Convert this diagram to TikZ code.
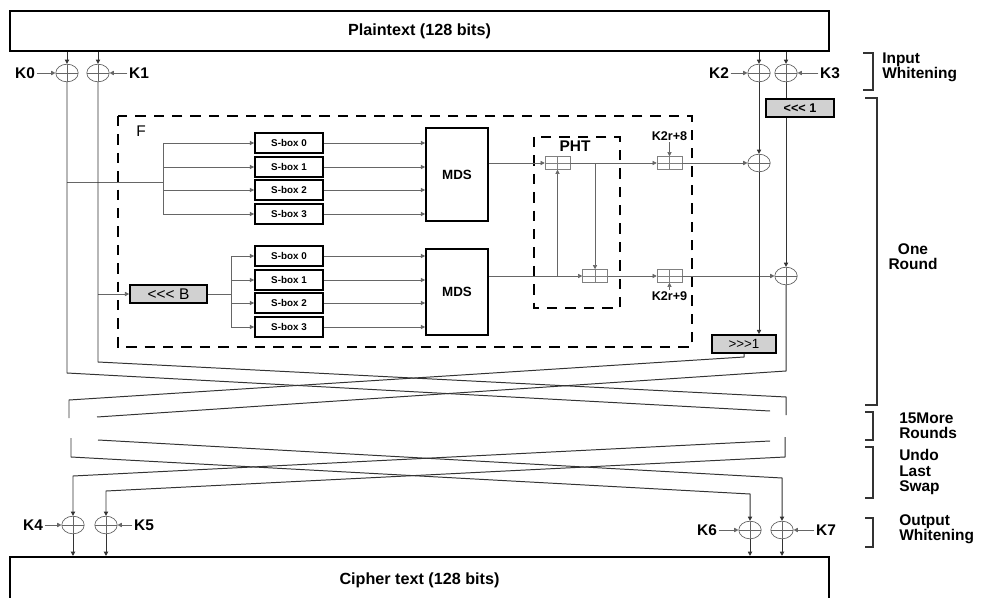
\documentclass[tikz,border=0pt]{standalone}
\usepackage{fontspec}
\setmainfont{Liberation Sans}[Ligatures=TeXOff]
\usetikzlibrary{shapes.geometric,arrows.meta}

\tikzset{
  lane/.style={draw=black!80, line width=0.7pt},
  wire/.style={draw=black!60, line width=0.5pt},
  xorc/.style={ellipse, draw=black!60, line width=0.5pt, minimum width=5.6mm,
    minimum height=4.4mm, inner sep=0pt,
    path picture={\draw[black!60] (path picture bounding box.north) -- (path picture bounding box.south)
      (path picture bounding box.west) -- (path picture bounding box.east);}},
  addr/.style={rectangle, draw=black!50, line width=0.5pt, minimum width=6.2mm,
    minimum height=3.2mm, inner sep=0pt,
    path picture={\draw[black!50] (path picture bounding box.north) -- (path picture bounding box.south)
      (path picture bounding box.west) -- (path picture bounding box.east);}},
  sbox/.style={rectangle, draw, line width=1.3pt, minimum width=17mm, minimum height=5.1mm,
    inner sep=0pt, font=\fontsize{7}{8}\selectfont\bfseries},
  mds/.style={rectangle, draw, line width=1.3pt, minimum width=15.5mm, inner sep=0pt,
    font=\fontsize{9.5}{10}\selectfont\bfseries},
  rot/.style={rectangle, draw, line width=1.2pt, fill=black!18, inner sep=0pt, minimum height=4.5mm},
  keylbl/.style={font=\fontsize{11}{12}\selectfont\bfseries, inner sep=1pt},
  sidelbl/.style={font=\fontsize{11}{10.8}\selectfont\bfseries, align=left, anchor=west, inner sep=0pt},
  brk/.style={draw=black!80, line width=0.8pt},
  fbox/.style={draw, line width=1.5pt, dash pattern=on 2.6mm off 2mm},
  iobox/.style={rectangle, draw, line width=1.5pt, minimum width=204.75mm, inner sep=0pt,
    font=\fontsize{11.5}{12}\selectfont\bfseries},
}

\begin{document}
\begin{tikzpicture}[x=0.25mm, y=-0.25mm, >={Triangle[length=3pt,width=3pt]}]
    \useasboundingbox (0,0) rectangle (987,597);
    \clip (0,0) rectangle (987,597);

    % Plaintext and cipher text
    \node[iobox, minimum height=10mm] (plain) at (419.5,31) {Plaintext (128 bits)};
    \node[iobox, minimum height=11.5mm] (cipher) at (419.5,580) {Cipher text (128 bits)};

    % Input whitening
    \node[xorc] (x0) at (67,73) {};
    \node[xorc] (x1) at (98,73) {};
    \node[xorc] (x2) at (759,73) {};
    \node[xorc] (x3) at (786,73) {};
    \node[keylbl] (k0) at (25,73) {K0};
    \node[keylbl] (k1) at (139,73) {K1};
    \node[keylbl] (k2) at (719,73) {K2};
    \node[keylbl] (k3) at (830,73) {K3};
    \foreach \i in {0,...,3} {
        \draw[lane,->] (plain.south -| x\i) -- (x\i);
        \draw[wire,->] (k\i) -- (x\i);
    }

    % F function
    \draw[fbox] (118,116) rectangle (692,347);
    \node[font=\fontsize{11}{12}\selectfont] (flbl) at (141,131) {F};

    \foreach \i/\y in {0/143,1/167,2/190,3/214}
        \node[sbox] (sa\i) at (289,\y) {S-box \i};
    \foreach \i/\y in {0/256,1/280,2/303,3/327}
        \node[sbox] (sb\i) at (289,\y) {S-box \i};
    \node[mds, minimum height=23.25mm] (mda) at (457,174.5) {MDS};
    \node[mds, minimum height=21.5mm] (mdb) at (457,292) {MDS};
    \node[rot, minimum width=19.25mm, font=\fontsize{11}{12}\selectfont] (rotb) at (168.5,294) {<<< B};

    % upper input bus
    \coordinate (fin) at (163,182);
    \draw[wire] (fin -| x0) -- (fin);
    \draw[wire] (sa0.west -| fin) -- (sa3.west -| fin);
    % lower input bus
    \coordinate (bb) at (231,294);
    \draw[wire,->] (rotb -| x1) -- (rotb);
    \draw[wire] (rotb.east) -- (bb);
    \draw[wire] (sb0.west -| bb) -- (sb3.west -| bb);
    \foreach \i in {0,...,3} {
        \draw[wire,->] (sa\i.west -| fin) -- (sa\i.west);
        \draw[wire,->] (sb\i.west -| bb) -- (sb\i.west);
        \draw[wire,->] (sa\i.east) -- (sa\i.east -| mda.west);
        \draw[wire,->] (sb\i.east) -- (sb\i.east -| mdb.west);
    }

    % PHT
    \draw[fbox] (534,137) rectangle (620,308);
    \node[font=\fontsize{11}{12}\selectfont\bfseries] (phtl) at (575,146) {PHT};
    \node[addr] (pa) at (557.5,163) {};
    \node[addr] (pb) at (595,276) {};
    \draw[wire,->] (mda.east |- pa) -- (pa);
    \draw[wire,->] (mdb.east |- pb) -- (pb);
    \draw[wire,->] (pa |- pb) -- (pa);
    \draw[wire,->] (pb |- pa) -- (pb);

    % round subkeys
    \node[addr] (ka) at (669.5,163) {};
    \node[addr] (kb) at (669.5,276) {};
    \node[font=\fontsize{9}{10}\selectfont\bfseries, inner sep=1pt] (k8) at (669.5,136) {K2r+8};
    \node[font=\fontsize{9}{10}\selectfont\bfseries, inner sep=1pt] (k9) at (669.5,296) {K2r+9};
    \draw[wire,->] (k8) -- (ka);
    \draw[wire,->] (k9) -- (kb);
    \draw[wire,->] (pa) -- (ka);
    \draw[wire,->] (pb) -- (kb);

    % right half of the round
    \node[xorc] (x8) at (759,163) {};
    \node[xorc] (x9) at (786,276) {};
    \node[rot, minimum width=17mm, font=\fontsize{9}{10}\selectfont\bfseries] (rotl) at (800,108) {<<< 1};
    \node[rot, minimum width=16mm, font=\fontsize{9.5}{10}\selectfont] (rotr) at (744,344) {>>>1};
    \draw[wire,->] (ka) -- (x8);
    \draw[wire,->] (kb) -- (x9);
    \draw[lane,->] (x2) -- (x8);
    \draw[lane,->] (x8) -- (x8 |- rotr.north);
    \draw[lane] (x3) -- (x3 |- rotl.north);
    \draw[lane,->] (x3 |- rotl.south) -- (x9);

    % swap after the round
    \coordinate (l1a) at (67,373);
    \coordinate (l1b) at (770,411);
    \coordinate (l2a) at (98,362);
    \coordinate (l2b) at (786,397);
    \coordinate (l2c) at (786,415);
    \coordinate (r1a) at (744,357);
    \coordinate (r1b) at (69,400);
    \coordinate (r1c) at (69,418);
    \coordinate (r2a) at (786,371);
    \coordinate (r2b) at (97,417);
    \draw[lane] (x0) -- (l1a) -- (l1b);
    \draw[lane] (x1) -- (l2a) -- (l2b) -- (l2c);
    \draw[lane] (rotr.south) -- (r1a) -- (r1b) -- (r1c);
    \draw[lane] (x9) -- (r2a) -- (r2b);

    % undo last swap
    \node[xorc] (x4) at (73,525) {};
    \node[xorc] (x5) at (106,525) {};
    \node[xorc] (x6) at (750,530) {};
    \node[xorc] (x7) at (782,530) {};
    \node[keylbl] (k4) at (33,525) {K4};
    \node[keylbl] (k5) at (144,525) {K5};
    \node[keylbl] (k6) at (707,530) {K6};
    \node[keylbl] (k7) at (826,530) {K7};
    \coordinate (m1a) at (71,438);
    \coordinate (m1b) at (71,457);
    \coordinate (m2a) at (98,440);
    \coordinate (m3a) at (770,441);
    \coordinate (m4a) at (785,437);
    \coordinate (m4b) at (785,457);
    \coordinate (u4) at (73,476);
    \coordinate (u5) at (106,491);
    \coordinate (u6) at (750,494);
    \coordinate (u7) at (782,478);
    \draw[lane,->] (m1a) -- (m1b) -- (u6) -- (x6);
    \draw[lane,->] (m2a) -- (u7) -- (x7);
    \draw[lane,->] (m3a) -- (u4) -- (x4);
    \draw[lane,->] (m4a) -- (m4b) -- (u5) -- (x5);

    % output whitening
    \foreach \i in {4,...,7} {
        \draw[lane,->] (x\i) -- (x\i |- cipher.north);
        \draw[wire,->] (k\i) -- (x\i);
    }

    % Brackets
    \draw[brk] (863,53) -- (873,53) -- (873,90) -- (863,90);
    \draw[brk] (865,98) -- (877,98) -- (877,405) -- (865,405);
    \draw[brk] (865,412) -- (873,412) -- (873,440) -- (865,440);
    \draw[brk] (865,447) -- (873,447) -- (873,498) -- (865,498);
    \draw[brk] (865,518) -- (873,518) -- (873,547) -- (865,547);
    \node[sidelbl] (lin) at (882,67) {Input\\Whitening};
    \node[font=\fontsize{11}{10.8}\selectfont\bfseries, align=center] (lrnd) at (913,257) {One\\Round};
    \node[sidelbl] (lmore) at (899,425.5) {15More\\Rounds};
    \node[sidelbl] (lundo) at (899,472) {Undo\\Last\\Swap};
    \node[sidelbl] (lout) at (899,529.5) {Output\\Whitening};
\end{tikzpicture}
\end{document}
